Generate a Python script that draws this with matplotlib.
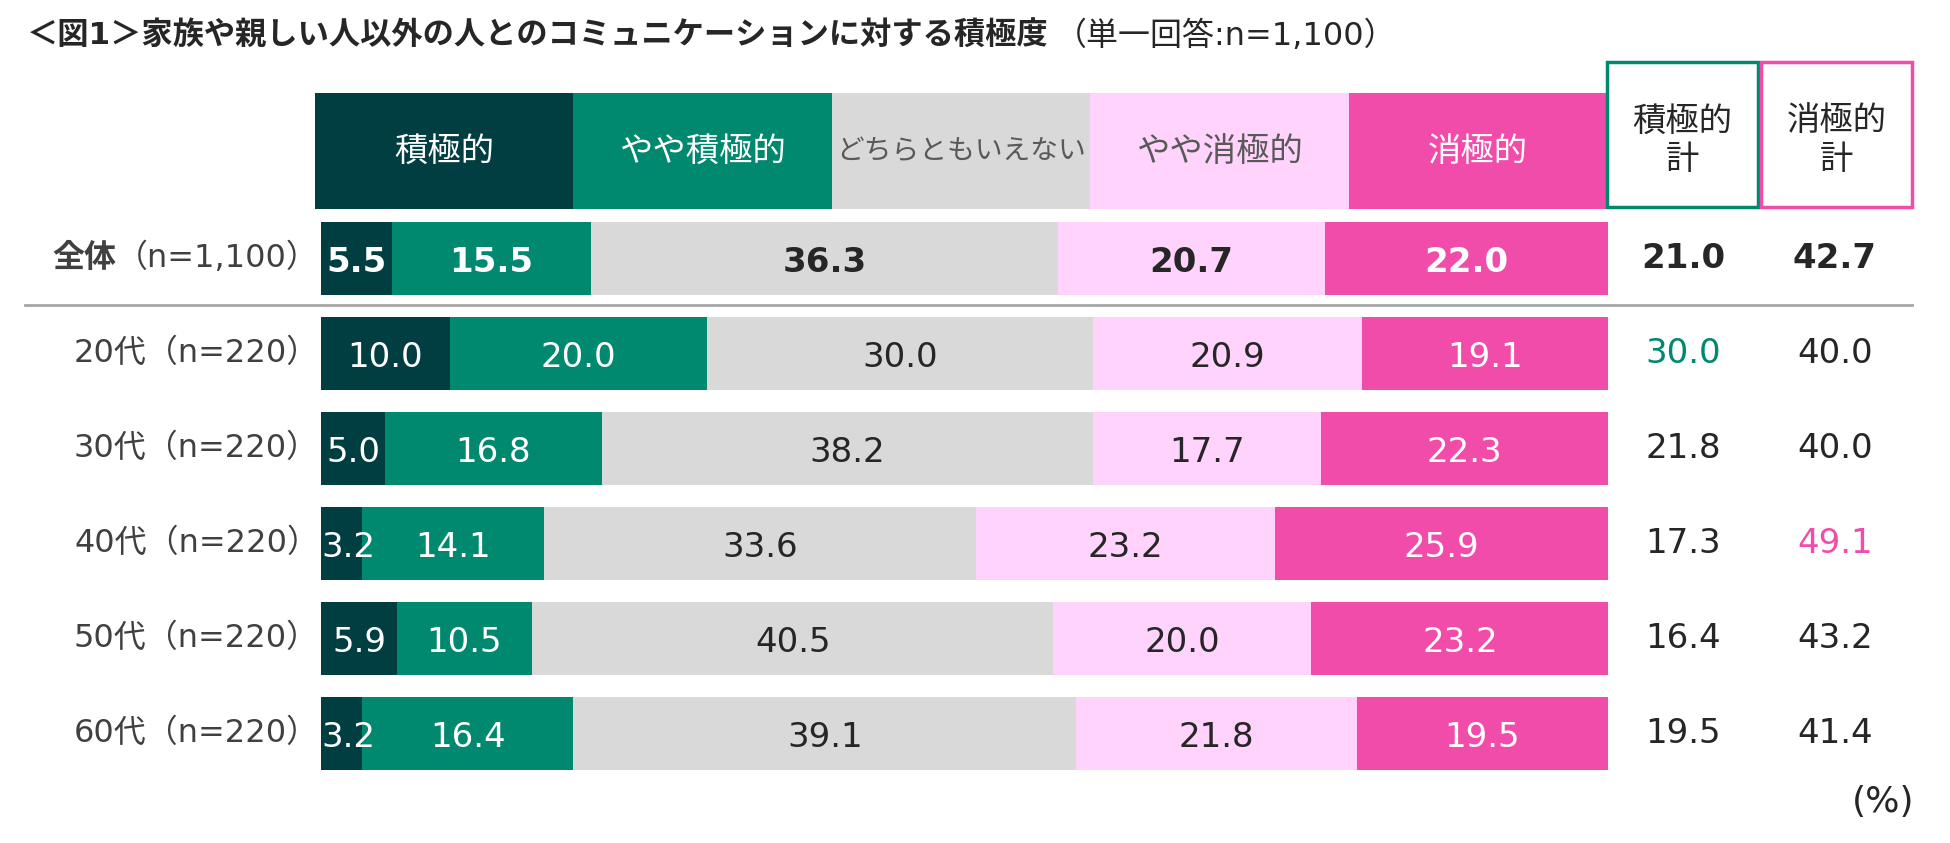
import matplotlib
matplotlib.use("Agg")
import matplotlib.pyplot as plt
from matplotlib.patches import Rectangle
from matplotlib.transforms import blended_transform_factory

plt.rcParams['font.family'] = ['DejaVu Sans', 'Noto Sans CJK JP']

# データ
groups = ['全体', '20代', '30代', '40代', '50代', '60代']
n_labels = ['（n=1,100）', '（n=220）', '（n=220）', '（n=220）', '（n=220）', '（n=220）']
answers = ['積極的', 'やや積極的', 'どちらともいえない', 'やや消極的', '消極的']
sekkyoku = [5.5, 10.0, 5.0, 3.2, 5.9, 3.2]
yaya_sekkyoku = [15.5, 20.0, 16.8, 14.1, 10.5, 16.4]
dochira = [36.3, 30.0, 38.2, 33.6, 40.5, 39.1]
yaya_shokyoku = [20.7, 20.9, 17.7, 23.2, 20.0, 21.8]
shokyoku = [22.0, 19.1, 22.3, 25.9, 23.2, 19.5]
pos_total = [21.0, 30.0, 21.8, 17.3, 16.4, 19.5]
neg_total = [42.7, 40.0, 40.0, 49.1, 43.2, 41.4]

colors = ['#003E41', '#00896E', '#D9D9D9', '#FFD3FB', '#F24CAB']
head_txt = ['white', 'white', '#595959', '#595959', 'white']
head_size = [24, 24, 20, 24, 24]
val_txt = ['white', 'white', '#262626', '#262626', 'white']
green = '#00896E'
pink = '#F24CAB'
dark = '#262626'
label_col = '#404040'

W, H = 1950, 843
fig = plt.figure(figsize=(W / 100, H / 100), dpi=100)

# タイトル
t1 = fig.text(27 / W, 1 - 36 / H, '＜図1＞家族や親しい人以外の人とのコミュニケーションに対する積極度',
              fontsize=22.5, fontweight='bold', color=dark, ha='left', va='center')
fig.canvas.draw()
r = fig.canvas.get_renderer()
bb = t1.get_window_extent(r)
fig.text(bb.x1 / W + 0.003, 1 - 36 / H, '（単一回答:n=1,100）', fontsize=23, color=dark,
         ha='left', va='center')

# 凡例ヘッダー
hax = fig.add_axes([315 / W, 1 - 209 / H, 1292 / W, 116 / H])
hax.barh([0] * 5, [1] * 5, left=range(5), color=colors, height=1.0)
for i, a in enumerate(answers):
    hax.text(i + 0.5, 0, a, color=head_txt[i], fontsize=head_size[i],
             ha='center', va='center')
hax.set_xlim(0, 5)
hax.set_ylim(-0.5, 0.5)
hax.axis('off')

# 計の見出し
for x0, x1, ec, name in [(1607, 1758, green, '積極的\n計'), (1761, 1912, pink, '消極的\n計')]:
    fig.patches.append(Rectangle((x0 / W, 1 - 207 / H), (x1 - x0) / W, 145 / H,
                                 transform=fig.transFigure, facecolor='white',
                                 edgecolor=ec, linewidth=2.5))
    fig.text((x0 + x1) / 2 / W, 1 - 140 / H, name, fontsize=24, color=dark,
             ha='center', va='center', linespacing=1.2)

# 帯グラフ
ax = fig.add_axes([321 / W, 1 - 781 / H, 1287 / W, 570 / H])
series = [sekkyoku, yaya_sekkyoku, dochira, yaya_shokyoku, shokyoku]
y = list(range(len(groups)))
left = [0.0] * len(groups)
for k, vals in enumerate(series):
    ax.barh(y, vals, left=left, color=colors[k], height=73 / 95)
    for i, v in enumerate(vals):
        fw = 'bold' if i == 0 else 'normal'
        if v < 4:
            # 幅が足りないラベルは帯の左端から
            ax.text(left[i], i + 0.04, f'{v:.1f}', color=val_txt[k], fontsize=24.5,
                    fontweight=fw, ha='left', va='center')
        else:
            ax.text(left[i] + v / 2, i + 0.04, f'{v:.1f}', color=val_txt[k], fontsize=24.5,
                    fontweight=fw, ha='center', va='center')
    left = [l + v for l, v in zip(left, vals)]
ax.set_xlim(0, 100)
ax.set_ylim(len(groups) - 0.5, -0.5)
ax.axis('off')

# 区切り線
fig.add_artist(plt.Line2D([25 / W, 1912 / W], [1 - 305 / H, 1 - 305 / H],
                          color='#A6A6A6', linewidth=2))

# 行ラベルと計
tr = blended_transform_factory(fig.transFigure, ax.transData)
pos_hi = max(range(1, len(groups)), key=lambda i: pos_total[i])
neg_hi = max(range(1, len(groups)), key=lambda i: neg_total[i])
for i, g in enumerate(groups):
    if i == 0:
        tn = ax.text(319 / W, i, n_labels[i], transform=tr, fontsize=23, color=label_col,
                     ha='right', va='center')
        fig.canvas.draw()
        bn = tn.get_window_extent(fig.canvas.get_renderer())
        ax.text(bn.x0 / W, i, g, transform=tr, fontsize=23, color=label_col,
                fontweight='bold', ha='right', va='center')
    else:
        ax.text(319 / W, i, g + n_labels[i], transform=tr, fontsize=23, color=label_col,
                ha='right', va='center')
    pc = green if i == pos_hi else dark
    nc = pink if i == neg_hi else dark
    fw = 'bold' if i == 0 else 'normal'
    ax.text(1683 / W, i, f'{pos_total[i]:.1f}', transform=tr, fontsize=24.5,
            color=pc, fontweight=fw, ha='center', va='center')
    ax.text(1835 / W, i, f'{neg_total[i]:.1f}', transform=tr, fontsize=24.5,
            color=nc, fontweight=fw, ha='center', va='center')

fig.text(1883 / W, 1 - 802 / H, '(%)', fontsize=26, color=dark, ha='center', va='center')

fig.savefig('out.png', dpi=100, facecolor='white')
